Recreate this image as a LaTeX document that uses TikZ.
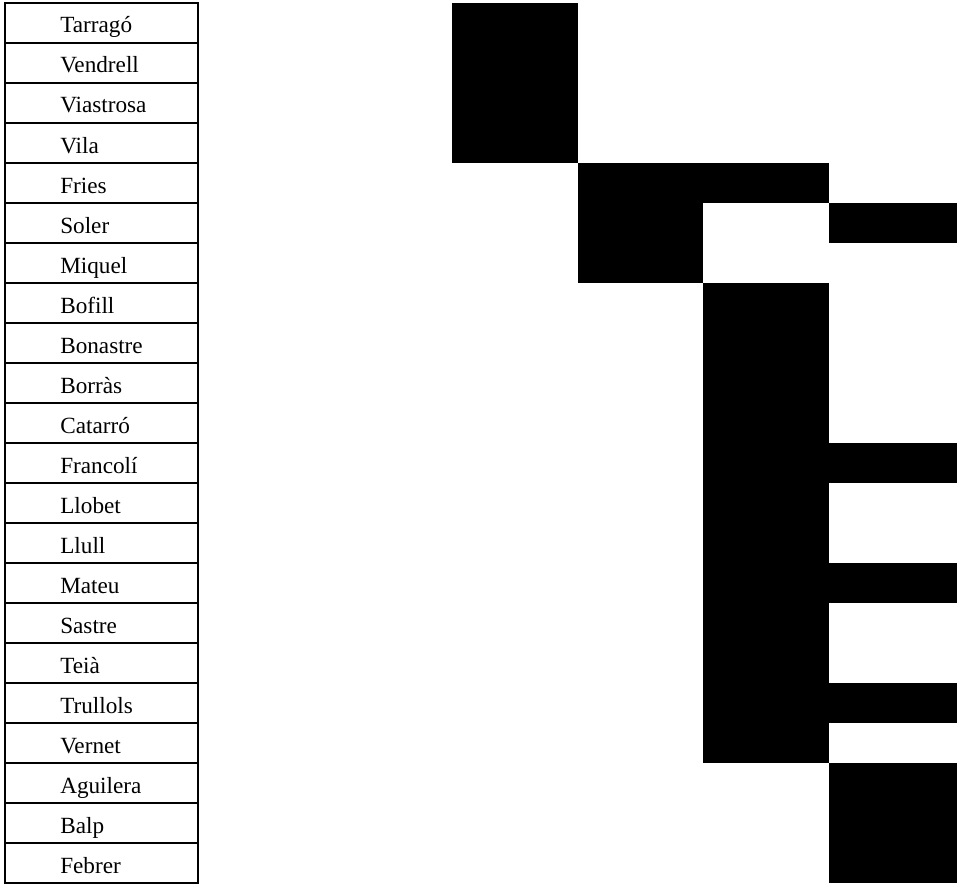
\documentclass[tikz,border=0pt]{standalone}
\usepackage{fontspec}
\setmainfont{Liberation Serif}
\usetikzlibrary{positioning}

\begin{document}
\begin{tikzpicture}[
    x=0.025cm, y=-0.025cm,
    namecell/.style={draw=black, line width=1.4pt},
    namelabel/.style={anchor=base west, inner sep=0pt, font=\fontsize{16.5}{20}\selectfont},
    block/.style={fill=black}
]
\useasboundingbox (0,0) rectangle (957,886);
% name table
\foreach \n [count=\i] in {Tarragó, Vendrell, Viastrosa, Vila, Fries, Soler, Miquel,
    Bofill, Bonastre, Borràs, Catarró, Francolí, Llobet, Llull, Mateu, Sastre,
    Teià, Trullols, Vernet, Aguilera, Balp, Febrer} {
    \draw[namecell] (5,{3+40*(\i-1)}) rectangle (198,{3+40*\i});
    \node[namelabel] (N\i) at (60,{33+40*(\i-1)}) {\n};
}
% blocks: column, first row, last row
\foreach \c/\a/\b in {1/1/4, 2/5/7, 3/5/5, 3/8/19, 4/6/6, 4/12/12, 4/15/15, 4/18/18, 4/20/22} {
    \pgfmathsetmacro{\xl}{452+125.5*(\c-1)}
    \pgfmathsetmacro{\xr}{\c==4 ? 957 : 452+125.5*\c}
    \fill[block] (\xl,{3+40*(\a-1)}) rectangle (\xr,{3+40*\b});
}
\end{tikzpicture}
\end{document}
